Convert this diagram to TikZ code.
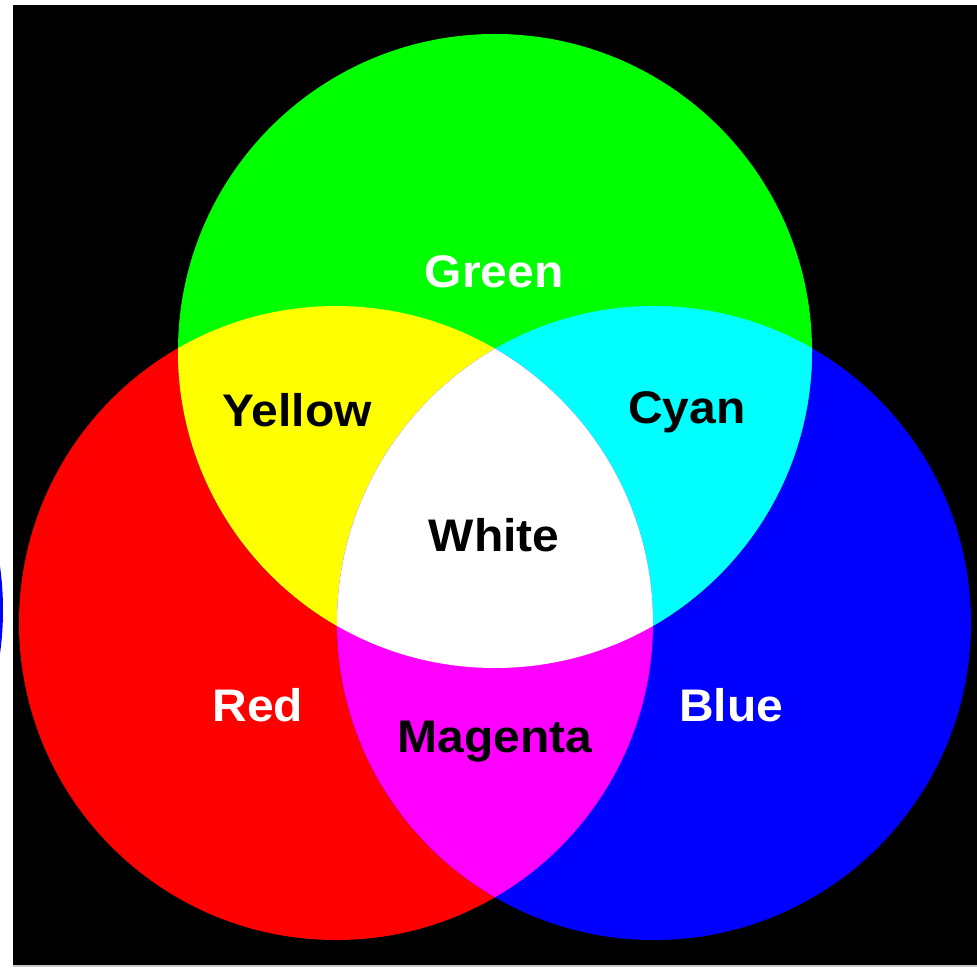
\documentclass[tikz,border=0pt]{standalone}
\usepackage{fontspec}
\setmainfont{Liberation Sans}[FakeStretch=1.05]
\usepackage{tikz}
\usetikzlibrary{positioning}
\definecolor{rgbred}{HTML}{FF0000}
\definecolor{rgbgreen}{HTML}{00FF00}
\definecolor{rgbblue}{HTML}{0000FF}
\definecolor{rgbyellow}{HTML}{FFFF00}
\definecolor{rgbcyan}{HTML}{00FFFF}
\definecolor{rgbmagenta}{HTML}{FF00FF}
\definecolor{edgegray}{HTML}{C8C8C8}

\begin{document}
\begin{tikzpicture}[
  x=0.02cm, y=-0.02cm,
  label/.style={font=\fontsize{26}{31}\selectfont\bfseries, inner sep=0pt, anchor=center},
  lightlabel/.style={label, text=white},
  darklabel/.style={label, text=black}
]
\useasboundingbox (0,0) rectangle (977,969);
\fill[white] (0,0) rectangle (977,969);

% stray edge of a second picture at the left margin
\begin{scope}
  \clip (0,0) rectangle (13,969);
  \fill[rgbblue] (-314,610) circle (317);
\end{scope}

\fill[black] (13,5) rectangle (977,965);
\fill[edgegray] (13,965) rectangle (977,967);

\coordinate (cg) at (495,351);
\coordinate (cr) at (336,623);
\coordinate (cb) at (654,623);
\def\rad{317}

% primaries
\fill[rgbred] (cr) circle (\rad);
\fill[rgbblue] (cb) circle (\rad);
\fill[rgbgreen] (cg) circle (\rad);

% secondaries
\begin{scope}
  \clip (cr) circle (\rad);
  \fill[rgbyellow] (cg) circle (\rad);
\end{scope}
\begin{scope}
  \clip (cb) circle (\rad);
  \fill[rgbcyan] (cg) circle (\rad);
\end{scope}
\begin{scope}
  \clip (cr) circle (\rad);
  \fill[rgbmagenta] (cb) circle (\rad);
\end{scope}
\begin{scope}
  \clip (cr) circle (\rad);
  \clip (cb) circle (\rad);
  \fill[white] (cg) circle (\rad);
\end{scope}

\node[lightlabel] (green) at (494,272) {Green};
\node[darklabel] (yellow) at (297,410) {Yellow};
\node[darklabel] (cyan) at (687,412) {Cyan};
\node[darklabel] (white) at (494,535) {White};
\node[lightlabel] (red) at (258,705) {Red};
\node[darklabel] (magenta) at (495,742) {Magenta};
\node[lightlabel] (blue) at (731,705) {Blue};
\end{tikzpicture}
\end{document}
